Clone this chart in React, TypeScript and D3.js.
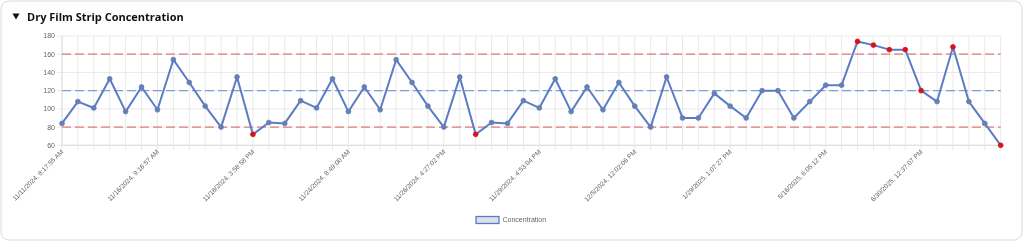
import React from 'react';
import * as d3 from 'd3';

// sample timestamps (x categories)
const timestamps: string[] = [
  '11/11/2024, 8:17:55 AM', '11/12/2024, 10:04:12 AM', '11/13/2024, 2:31:40 PM', '11/14/2024, 9:12:08 AM',
  '11/14/2024, 3:45:21 PM', '11/15/2024, 11:20:33 AM', '11/16/2024, 9:16:57 AM', '11/16/2024, 2:08:14 PM',
  '11/17/2024, 10:42:05 AM', '11/17/2024, 4:19:50 PM', '11/18/2024, 9:03:27 AM', '11/18/2024, 12:30:44 PM',
  '11/18/2024, 3:58:58 PM', '11/19/2024, 10:15:36 AM', '11/20/2024, 1:47:09 PM', '11/21/2024, 9:28:52 AM',
  '11/22/2024, 11:54:17 AM', '11/22/2024, 4:06:30 PM', '11/24/2024, 8:49:00 AM', '11/24/2024, 1:22:45 PM',
  '11/25/2024, 9:37:18 AM', '11/25/2024, 2:51:03 PM', '11/26/2024, 8:12:26 AM', '11/26/2024, 11:33:49 AM',
  '11/26/2024, 4:27:02 PM', '11/27/2024, 9:58:14 AM', '11/27/2024, 2:40:37 PM', '11/28/2024, 10:11:22 AM',
  '11/28/2024, 3:25:58 PM', '11/29/2024, 9:44:10 AM', '11/29/2024, 4:53:04 PM', '12/1/2024, 10:20:41 AM',
  '12/2/2024, 1:35:16 PM', '12/3/2024, 9:07:53 AM', '12/3/2024, 3:48:29 PM', '12/4/2024, 11:16:02 AM',
  '12/5/2024, 12:02:06 PM', '12/9/2024, 10:29:38 AM', '12/16/2024, 2:14:55 PM', '12/30/2024, 9:51:20 AM',
  '1/8/2025, 11:38:47 AM', '1/17/2025, 3:02:13 PM', '1/29/2025, 1:07:27 PM', '2/12/2025, 10:44:31 AM',
  '2/27/2025, 2:19:06 PM', '3/13/2025, 9:33:42 AM', '3/28/2025, 1:56:18 PM', '4/15/2025, 10:08:54 AM',
  '5/16/2025, 6:05:12 PM', '5/23/2025, 11:27:35 AM', '5/30/2025, 2:49:08 PM', '6/6/2025, 9:15:47 AM',
  '6/13/2025, 3:31:22 PM', '6/20/2025, 10:52:16 AM', '6/30/2025, 12:37:07 PM', '7/8/2025, 9:24:39 AM',
  '7/17/2025, 1:58:03 PM', '7/28/2025, 10:36:50 AM', '8/6/2025, 2:12:28 PM', '8/15/2025, 11:05:44 AM',
];

const concentration: number[] = [
  84, 108, 101, 133, 97, 124, 99, 154, 129, 103, 80, 135, 72, 85, 84, 109, 101, 133, 97, 124,
  99, 154, 129, 103, 80, 135, 72, 85, 84, 109, 101, 133, 97, 124, 99, 129, 103, 80, 135, 90,
  90, 117, 103, 90, 120, 120, 90, 108, 126, 126, 174, 170, 165, 165, 120, 108, 168, 108, 84, 60,
];

// points the control rules flagged
const flagged: number[] = [12, 26, 50, 51, 52, 53, 54, 56, 59];

const limits = { ucl: 160, center: 120, lcl: 80 };
const yTicks: number[] = [60, 80, 100, 120, 140, 160, 180];
const labelEvery = 6;

const FONT = '"Liberation Sans", Arial, sans-serif';

export default function App() {
  const left = 62, right = 1000.7, top = 36, bottom = 145.3;

  const x = d3.scalePoint<number>()
    .domain(d3.range(concentration.length))
    .range([left, right]);
  const y = d3.scaleLinear().domain([60, 180]).range([bottom, top]);

  const line = d3.line<number>()
    .x((_, i) => x(i) as number)
    .y(d => y(d));

  return (
    <div style={{ position: 'fixed', left: 0, top: 0 }}>
      <svg width={1024} height={242} style={{ display: 'block', fontFamily: FONT }}>
        <rect x={1} y={1} width={1021} height={239} rx={8} fill="#fff" stroke="#d9d9d9" />
        <path d="M12.5,13.5 L19.5,13.5 L16,19.5 Z" fill="#111" />
        <text x={27} y={21} fontSize={11} fontWeight={700} fill="#111"
          style={{ fontFamily: '"Open Sans", "Noto Sans", sans-serif' }}>
          Dry Film Strip Concentration
        </text>

        {/* grid */}
        <g stroke="#e9e9e9" strokeWidth={1}>
          {concentration.map((_, i) => (
            <line key={i} x1={x(i)} x2={x(i)} y1={top} y2={bottom + 5} />
          ))}
          {yTicks.map(t => (
            <line key={t} x1={left - 5} x2={right} y1={y(t)} y2={y(t)} />
          ))}
        </g>
        <line x1={left} x2={left} y1={top} y2={bottom} stroke="#ddd" />
        <line x1={left} x2={right} y1={bottom} y2={bottom} stroke="#ddd" />

        {yTicks.map(t => (
          <text key={t} x={left - 7} y={y(t)} dy="0.35em" textAnchor="end" fontSize={7} fill="#666">{t}</text>
        ))}

        {timestamps.map((lab, i) => i % labelEvery === 0 && (
          <text key={lab} textAnchor="end" fontSize={6.6} fill="#666"
            transform={`translate(${(x(i) as number) + 2},${bottom + 7}) rotate(-45)`}>
            {lab}
          </text>
        ))}

        {/* control limits */}
        <line x1={left} x2={right} y1={y(limits.ucl)} y2={y(limits.ucl)} stroke="#e07b7b" strokeWidth={1.2} strokeDasharray="9,4" />
        <line x1={left} x2={right} y1={y(limits.lcl)} y2={y(limits.lcl)} stroke="#e07b7b" strokeWidth={1.2} strokeDasharray="9,4" />
        <line x1={left} x2={right} y1={y(limits.center)} y2={y(limits.center)} stroke="#7aa0d4" strokeWidth={1.2} strokeDasharray="9,4" />

        <path d={line(concentration) ?? ''} fill="none" stroke="#5b7cc4" strokeWidth={2} strokeLinejoin="round" />
        {concentration.map((v, i) => {
          const bad = flagged.includes(i);
          return (
            <circle key={i} cx={x(i)} cy={y(v)} r={2.4}
              fill={bad ? '#e0101a' : '#6b80a8'} stroke={bad ? '#d0101a' : '#5b7cc4'} strokeWidth={0.8} />
          );
        })}

        {/* legend */}
        <rect x={476} y={216.5} width={23} height={7} fill="#dcdfea" stroke="#5b7cc4" strokeWidth={1.3} />
        <text x={502.5} y={220} dy="0.35em" fontSize={7} fill="#666">Concentration</text>
      </svg>
    </div>
  );
}
